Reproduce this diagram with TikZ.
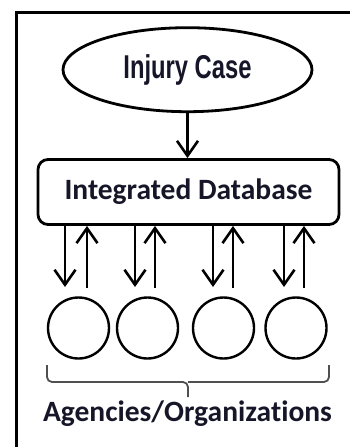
\documentclass[tikz,border=0pt]{standalone}
\usepackage{fontspec}
\usepackage{graphicx}
\setmainfont[Ligatures={NoCommon}]{Carlito}
\newfontfamily\arialf{Liberation Sans}
\usetikzlibrary{shapes.geometric,arrows.meta}
\definecolor{textc}{RGB}{22,22,40}
\definecolor{bracec}{RGB}{80,80,80}
\tikzset{
  caseshape/.style={ellipse, draw=black, line width=2.8pt, minimum width=249pt, minimum height=84pt, inner sep=0pt, text=textc},
  dbshape/.style={rectangle, rounded corners=10pt, draw=black, line width=2.8pt, minimum width=301pt, minimum height=65pt, inner sep=0pt, text=textc},
  agency/.style={circle, draw=black, line width=2.4pt, minimum size=61pt, inner sep=0pt},
  arr/.style={line width=2.6pt, -{Straight Barb[length=15pt,width=21pt]}},
  bracepath/.style={draw=bracec, line width=1.8pt, rounded corners=5pt},
  lbl/.style={text=textc, inner sep=0pt, anchor=base}
}
\begin{document}
\begin{tikzpicture}[x=1pt,y=-1pt]
\useasboundingbox (0,0) rectangle (350,447);
\fill[white] (0,0) rectangle (350,447);
% outer frame (left and top edges visible)
\draw[line width=2.6pt] (16.5,470) -- (16.5,12.5) -- (370,12.5);

\node[caseshape] (case) at (187.5,69.7) {\fontsize{33}{38}\selectfont\scalebox{0.72}[1]{\arialf\bfseries Injury Case}};
\node[dbshape] (db) at (188.5,192) {\fontsize{29.5}{34}\selectfont\bfseries Integrated Database};

\draw[arr] (case.south) -- (case.south |- db.north);

\node[agency] (a1) at (78.5,328) {};
\node[agency] (a2) at (147.5,328) {};
\node[agency] (a3) at (223.5,328) {};
\node[agency] (a4) at (296,328) {};

\coordinate (d1) at (65,287);
\coordinate (d2) at (135,287);
\coordinate (d3) at (213,287);
\coordinate (d4) at (284,287);
\coordinate (u1) at (87,288);
\coordinate (u2) at (155,288);
\coordinate (u3) at (233,288);
\coordinate (u4) at (304,288);

\foreach \i in {1,2,3,4}{
  \draw[arr] (db.south -| d\i) -- (d\i);
  \draw[arr] (u\i) -- (db.south -| u\i);
}

\coordinate (bl) at (47,365);
\coordinate (br) at (329,365);
\coordinate (bt) at (188,397);
\draw[bracepath] (bl) -- (47,382) -- (188,382) -- (bt);
\draw[bracepath] (br) -- (329,382) -- (188,382);

\node[lbl] (agencies) at (187.5,421) {\fontsize{29.5}{34}\selectfont\bfseries Agencies/Organizat\kern0pt ions};
\end{tikzpicture}
\end{document}
